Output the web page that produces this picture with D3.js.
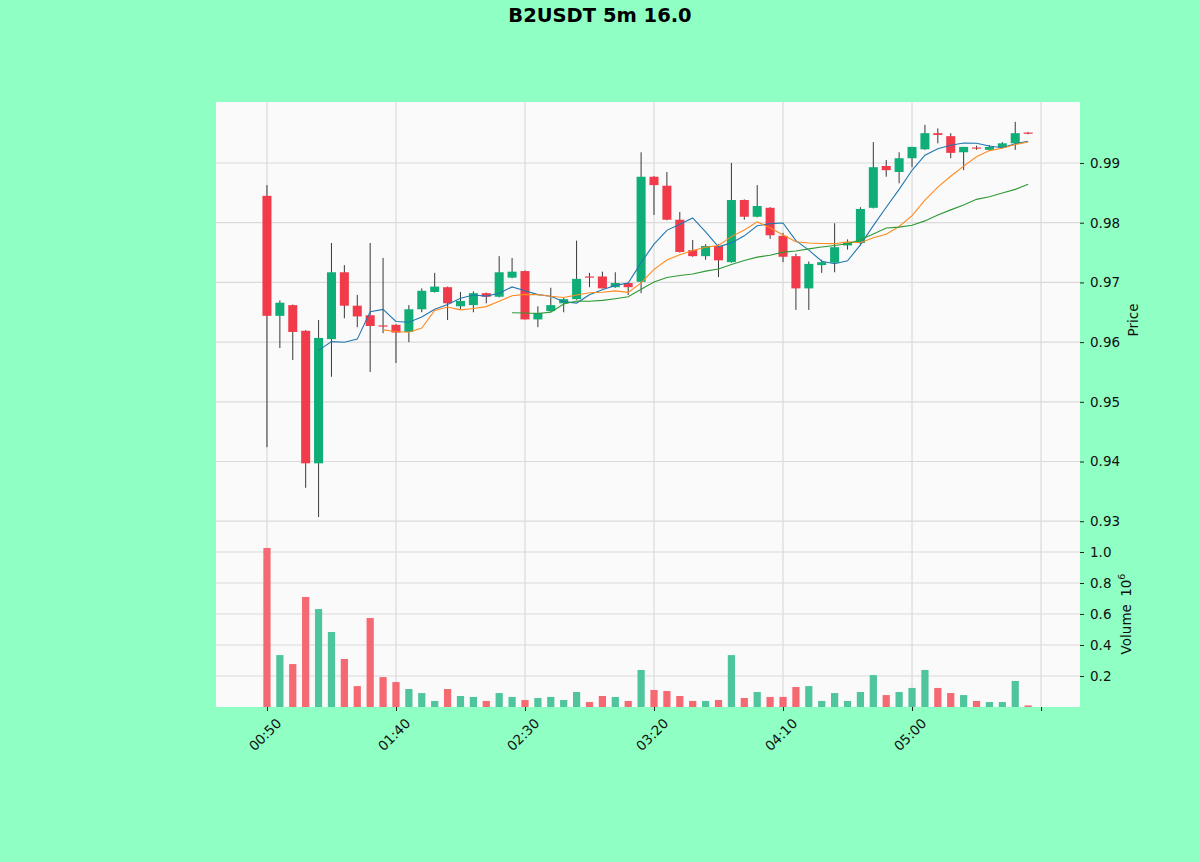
<!DOCTYPE html>
<html>
<head>
<meta charset="utf-8">
<script src="https://cdn.jsdelivr.net/npm/d3@7"></script>
<style>
  body { margin: 0; background: #8fffc4; }
  text { font-family: "DejaVu Sans", sans-serif; }
</style>
</head>
<body>
<div id="chart"></div>
<script>
// 5m candles
var times = ["00:50","00:55","01:00","01:05","01:10","01:15","01:20","01:25","01:30","01:35",
             "01:40","01:45","01:50","01:55","02:00","02:05","02:10","02:15","02:20","02:25",
             "02:30","02:35","02:40","02:45","02:50","02:55","03:00","03:05","03:10","03:15",
             "03:20","03:25","03:30","03:35","03:40","03:45","03:50","03:55","04:00","04:05",
             "04:10","04:15","04:20","04:25","04:30","04:35","04:40","04:45","04:50","04:55",
             "05:00","05:05","05:10","05:15","05:20","05:25","05:30","05:35","05:40","05:45"];
var opens = [0.9845,0.9644,0.9662,0.9619,0.9397,0.9605,0.9717,0.9661,0.9645,0.9628,
             0.9629,0.9617,0.9655,0.9684,0.9692,0.9660,0.9662,0.9682,0.9676,0.9708,
             0.9719,0.9638,0.9652,0.9665,0.9672,0.9710,0.9710,0.9692,0.9699,0.9701,
             0.9877,0.9862,0.9805,0.9754,0.9744,0.9761,0.9734,0.9838,0.9810,0.9825,
             0.9778,0.9744,0.9690,0.9729,0.9733,0.9762,0.9766,0.9825,0.9895,0.9885,
             0.9908,0.9923,0.9950,0.9945,0.9918,0.9926,0.9922,0.9926,0.9933,0.9951];
var highs = [0.9863,0.9670,0.9663,0.9620,0.9637,0.9766,0.9729,0.9679,0.9766,0.9741,
             0.9630,0.9662,0.9690,0.9716,0.9693,0.9684,0.9685,0.9683,0.9744,0.9741,
             0.9720,0.9660,0.9691,0.9674,0.9770,0.9716,0.9718,0.9717,0.9700,0.9918,
             0.9878,0.9885,0.9818,0.9771,0.9764,0.9764,0.9900,0.9839,0.9863,0.9826,
             0.9783,0.9748,0.9735,0.9738,0.9799,0.9772,0.9826,0.9935,0.9905,0.9918,
             0.9927,0.9964,0.9958,0.9950,0.9927,0.9929,0.9930,0.9935,0.9969,0.9952];
var lows = [0.9424,0.9590,0.9570,0.9356,0.9307,0.9542,0.9640,0.9625,0.9550,0.9615,
            0.9565,0.9600,0.9650,0.9683,0.9637,0.9655,0.9650,0.9665,0.9675,0.9707,
            0.9638,0.9625,0.9651,0.9650,0.9671,0.9692,0.9690,0.9691,0.9679,0.9682,
            0.9813,0.9804,0.9750,0.9743,0.9738,0.9709,0.9733,0.9805,0.9809,0.9773,
            0.9734,0.9654,0.9654,0.9716,0.9717,0.9755,0.9762,0.9824,0.9877,0.9866,
            0.9893,0.9922,0.9933,0.9908,0.9888,0.9922,0.9920,0.9925,0.9922,0.9948];
var closes = [0.9644,0.9666,0.9617,0.9397,0.9607,0.9717,0.9661,0.9643,0.9627,0.9626,
              0.9616,0.9655,0.9686,0.9693,0.9665,0.9669,0.9682,0.9676,0.9717,0.9718,
              0.9638,0.9649,0.9662,0.9672,0.9706,0.9708,0.9690,0.9699,0.9692,0.9877,
              0.9863,0.9805,0.9751,0.9744,0.9761,0.9737,0.9838,0.9810,0.9828,0.9779,
              0.9743,0.9690,0.9731,0.9734,0.9759,0.9767,0.9823,0.9893,0.9888,0.9908,
              0.9927,0.9950,0.9947,0.9917,0.9927,0.9924,0.9927,0.9933,0.9950,0.9949];
var volumes = [1026000,335000,277000,710000,632000,484000,310000,135000,574000,193000,
               161000,116000,90000,39000,116000,71000,65000,39000,90000,65000,
               45000,58000,65000,45000,97000,32000,71000,65000,39000,239000,
               110000,103000,71000,39000,39000,45000,335000,58000,97000,65000,
               65000,129000,135000,39000,90000,39000,97000,206000,77000,97000,
               123000,239000,123000,90000,77000,39000,32000,32000,168000,10000];
var mavWindows = [5, 10, 20];
var mavColors = ["#2277b0", "#ff8a1e", "#2f9a36"];
var priceTicks = [0.93, 0.94, 0.95, 0.96, 0.97, 0.98, 0.99];
var volumeTicks = [200000, 400000, 600000, 800000, 1000000];
var xTickIdx = [0, 10, 20, 30, 40, 50, 60];

var W = 1200, H = 862;
var axLeft = 216, axRight = 1080, axTop = 102, axMid = 530, axBottom = 707;

var upColor = "#0fae76", downColor = "#f23b4a";
var upVol = "#4fc59d", downVol = "#f56a72";
var gridColor = "#dadada";

var data = times.map(function (t, i) {
    return { i: i, t: t, o: opens[i], h: highs[i], l: lows[i], c: closes[i], v: volumes[i] };
});

var svg = d3.select("#chart").append("svg")
    .attr("width", W).attr("height", H);

svg.append("rect").attr("width", W).attr("height", H).attr("fill", "#8fffc4");

// scales
var x = d3.scaleLinear().domain([-3.95, 63.02]).range([axLeft, axRight]);
var y = d3.scaleLinear().domain([0.92853, 1.00022]).range([axMid, axTop]);
var yv = d3.scaleLinear().domain([0, 1142000]).range([axBottom, axMid]);

// panel background
svg.append("rect").attr("x", axLeft).attr("y", axTop)
    .attr("width", axRight - axLeft).attr("height", axBottom - axTop).attr("fill", "#fafafa");

// grid
var grid = svg.append("g").attr("stroke", gridColor).attr("stroke-width", 1.2);
grid.selectAll(".gx").data(xTickIdx).join("line")
    .attr("x1", function (d) { return x(d); }).attr("x2", function (d) { return x(d); })
    .attr("y1", axTop).attr("y2", axBottom);
grid.selectAll(".gy").data(priceTicks).join("line")
    .attr("x1", axLeft).attr("x2", axRight)
    .attr("y1", function (d) { return y(d); }).attr("y2", function (d) { return y(d); });
grid.selectAll(".gv").data(volumeTicks).join("line")
    .attr("x1", axLeft).attr("x2", axRight)
    .attr("y1", function (d) { return yv(d); }).attr("y2", function (d) { return yv(d); });

var step = x(1) - x(0);

// candles
var candles = svg.append("g");
candles.selectAll("line").data(data).join("line")
    .attr("x1", function (d) { return x(d.i); }).attr("x2", function (d) { return x(d.i); })
    .attr("y1", function (d) { return y(d.h); }).attr("y2", function (d) { return y(d.l); })
    .attr("stroke", "#222").attr("stroke-width", 0.9);
candles.selectAll("rect").data(data).join("rect")
    .attr("x", function (d) { return x(d.i) - step * 0.35; })
    .attr("width", step * 0.7)
    .attr("y", function (d) { return y(Math.max(d.o, d.c)); })
    .attr("height", function (d) { return Math.max(1, Math.abs(y(d.o) - y(d.c))); })
    .attr("fill", function (d) { return d.c >= d.o ? upColor : downColor; });

// moving averages of the closes
mavWindows.forEach(function (n, k) {
    var pts = data.slice(n - 1).map(function (d) {
        return { i: d.i, m: d3.mean(closes.slice(d.i - n + 1, d.i + 1)) };
    });
    svg.append("path").datum(pts)
        .attr("fill", "none")
        .attr("stroke", mavColors[k])
        .attr("stroke-width", 1.1)
        .attr("d", d3.line()
            .x(function (d) { return x(d.i); })
            .y(function (d) { return y(d.m); }));
});

// volume bars
svg.append("g").selectAll("rect").data(data).join("rect")
    .attr("x", function (d) { return x(d.i) - step * 0.28; })
    .attr("width", step * 0.56)
    .attr("y", function (d) { return yv(d.v); })
    .attr("height", function (d) { return yv(0) - yv(d.v); })
    .attr("fill", function (d) { return d.c >= d.o ? upVol : downVol; });

// right axes
var priceAxis = svg.append("g")
    .attr("transform", "translate(" + axRight + ",0)")
    .call(d3.axisRight(y).tickValues(priceTicks).tickFormat(d3.format(".2f")).tickSize(4).tickPadding(6));
var volAxis = svg.append("g")
    .attr("transform", "translate(" + axRight + ",0)")
    .call(d3.axisRight(yv).tickValues(volumeTicks)
        .tickFormat(function (d) { return d3.format(".1f")(d / 1e6); }).tickSize(4).tickPadding(6));

// bottom axis
var xAxis = svg.append("g")
    .attr("transform", "translate(0," + axBottom + ")")
    .call(d3.axisBottom(x).tickValues(xTickIdx)
        .tickFormat(function (d) { return d < times.length ? times[d] : ""; }).tickSize(4));
xAxis.selectAll("text")
    .attr("text-anchor", "middle")
    .attr("dy", null)
    .attr("y", null)
    .attr("transform", "translate(1,31) rotate(-45)");

[priceAxis, volAxis, xAxis].forEach(function (a) {
    a.select(".domain").remove();
    a.selectAll("line").attr("stroke", "#222");
    a.selectAll("text").attr("fill", "#111").style("font-size", "13.5px")
        .style("font-family", "'DejaVu Sans', sans-serif");
});

// axis labels
svg.append("text")
    .attr("transform", "translate(1138,320) rotate(-90)")
    .attr("text-anchor", "middle")
    .style("font-size", "13.5px").attr("fill", "#111")
    .text("Price");
var vl = svg.append("text")
    .attr("transform", "translate(1131,614) rotate(-90)")
    .attr("text-anchor", "middle")
    .style("font-size", "13.5px").attr("fill", "#111");
vl.append("tspan").text("Volume  ");
vl.append("tspan").attr("dx", 3).text("10");
vl.append("tspan").attr("dy", -6).style("font-size", "9.5px").text("6");

// title
svg.append("text")
    .attr("x", 600).attr("y", 22)
    .attr("text-anchor", "middle")
    .style("font-size", "19.5px").style("font-weight", "bold").attr("fill", "#000")
    .text("B2USDT 5m 16.0");
</script>
</body>
</html>
